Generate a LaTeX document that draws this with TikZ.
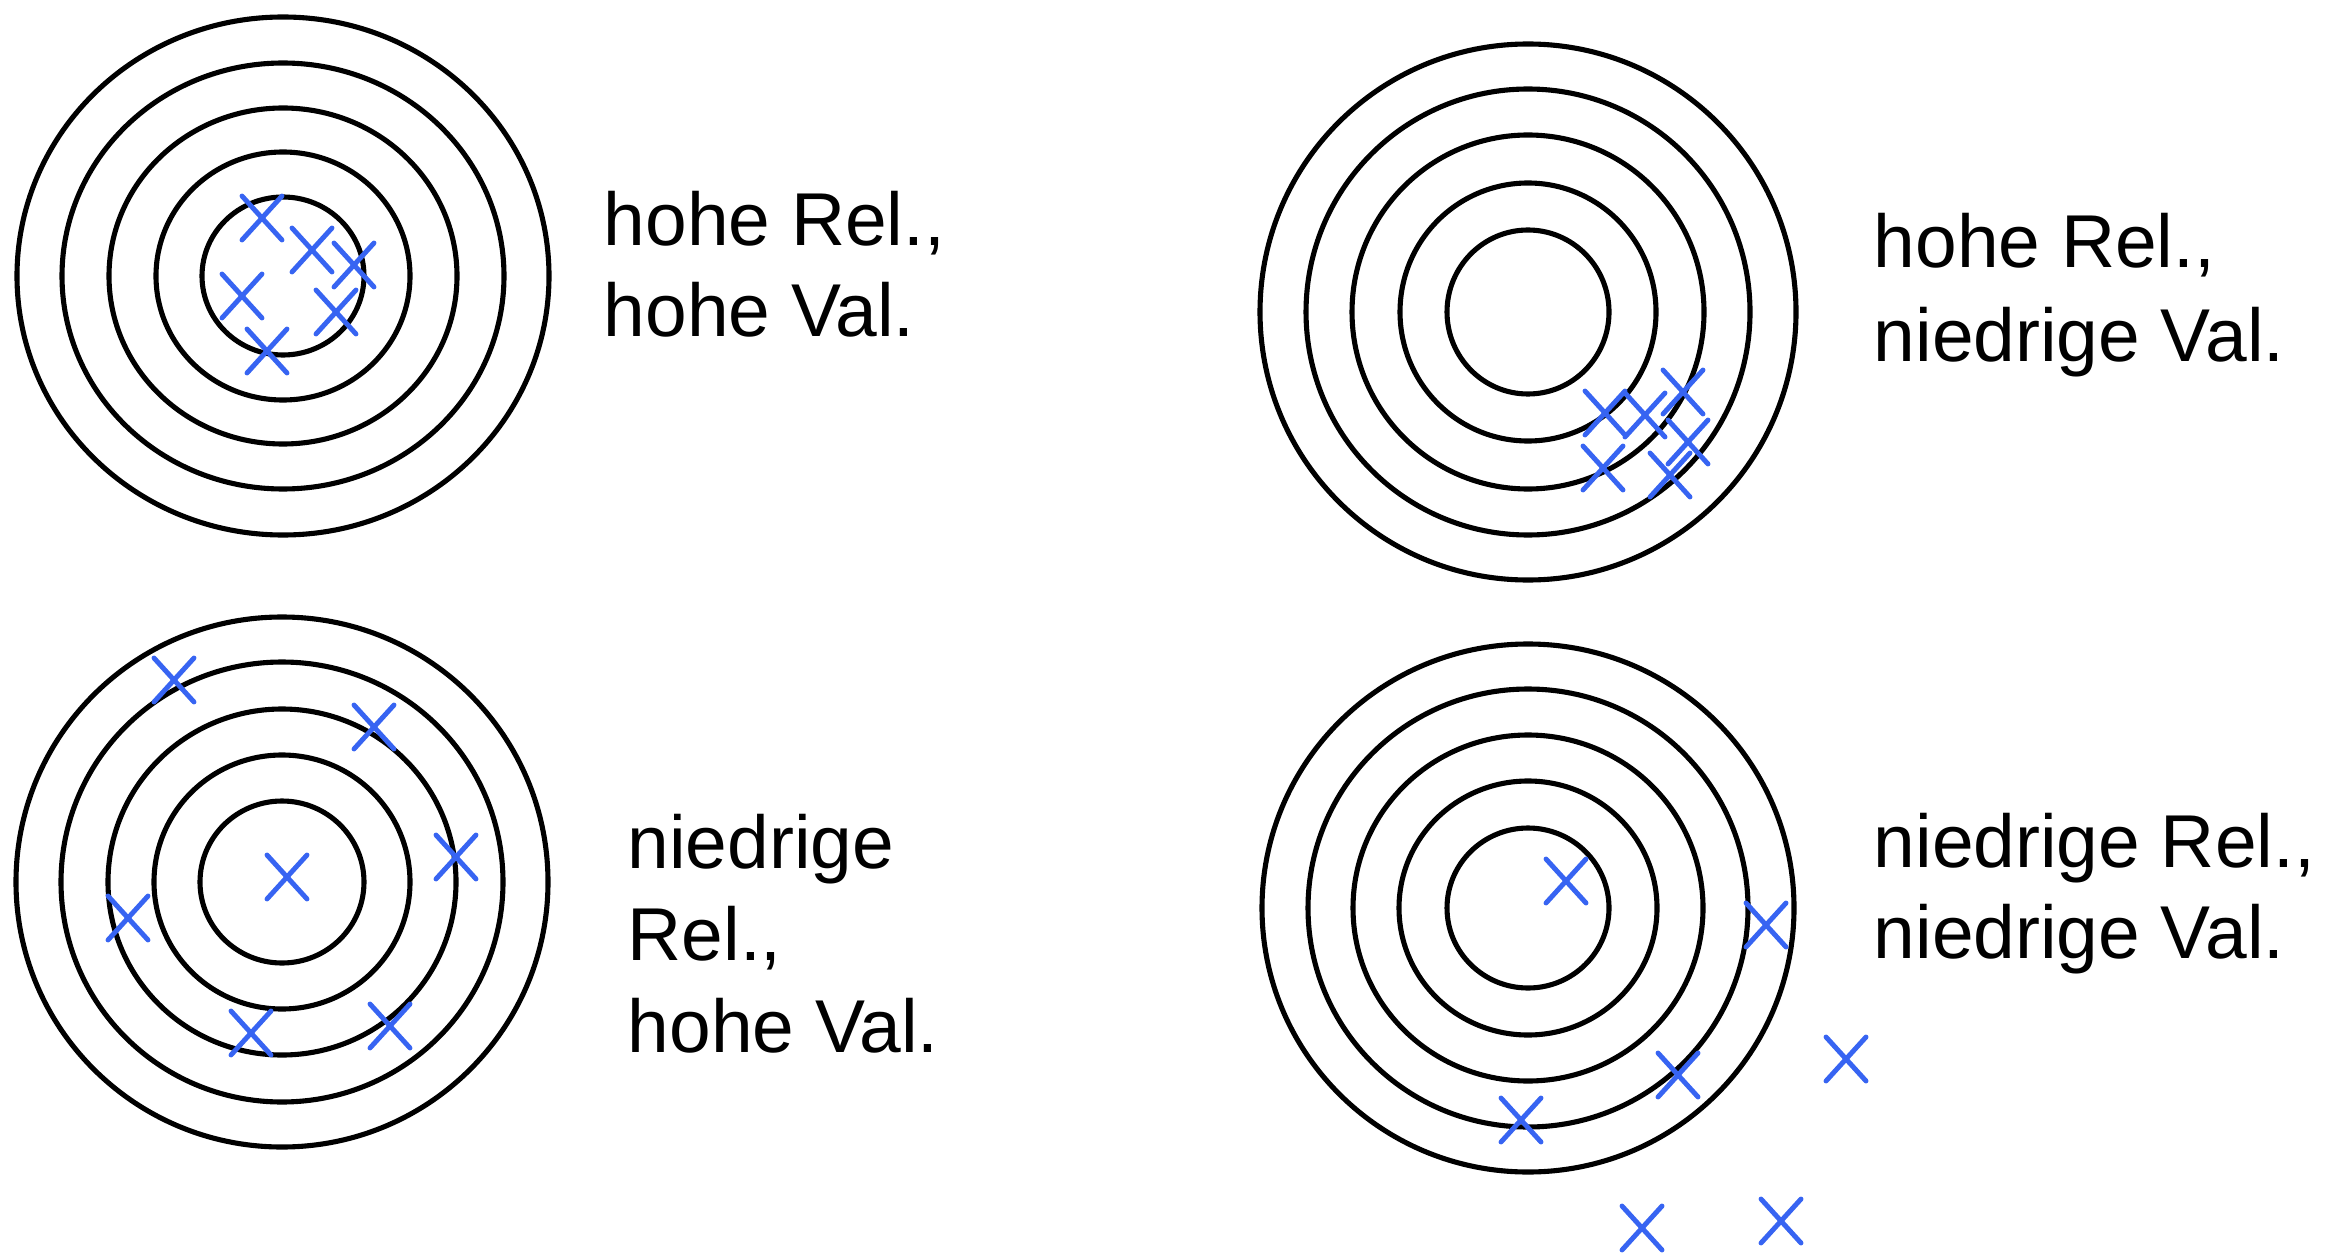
\documentclass[tikz,border=0pt]{standalone}
\usepackage{fontspec}
\setmainfont{Liberation Sans}
\definecolor{xblue}{RGB}{55,100,242}
\begin{document}
\begin{tikzpicture}[x=0.01cm,y=-0.01cm,
  ring/.style={draw=black,line width=1.45pt},
  lbl/.style={anchor=base west,inner sep=0pt,font=\fontsize{21.3pt}{26pt}\selectfont},
  pics/xmark/.style={code={\draw[xblue,line width=1.4pt,line cap=round] (-20,-22) -- (20,22) (-20,22) -- (20,-22);}}]
\useasboundingbox (0,0) rectangle (2337,1255);
% top-left target
\foreach \rx/\ry in {266/259,221/213,174/168,127/124,81/79}
  \draw[ring] (283,276) ellipse [x radius=\rx, y radius=\ry];
\foreach \p in {(262,218),(312,250),(354,265),(242,296),(336,312),(267,351)}
  \pic at \p {xmark};
% top-right target
\foreach \rx/\ry in {268/268,222/223,176/177,128/129,81/82}
  \draw[ring] (1528,312) ellipse [x radius=\rx, y radius=\ry];
\foreach \p in {(1605,413),(1645,415),(1683,392),(1688,442),(1603,468),(1670,475)}
  \pic at \p {xmark};
% bottom-left target
\foreach \rx/\ry in {266/265,221/220,174/173,128/127,82/81}
  \draw[ring] (282,882) ellipse [x radius=\rx, y radius=\ry];
\foreach \p in {(174,680),(374,727),(456,857),(287,877),(128,918),(251,1033),(390,1026)}
  \pic at \p {xmark};
% bottom-right target
\foreach \rx/\ry in {266/264,220/219,175/173,129/127,81/80}
  \draw[ring] (1528,908) ellipse [x radius=\rx, y radius=\ry];
\foreach \p in {(1566,881),(1766,925),(1846,1059),(1678,1075),(1521,1120),(1642,1228),(1781,1221)}
  \pic at \p {xmark};
% labels
\node[lbl] (tla) at (603,246) {hohe Rel.,};
\node[lbl] (tlb) at (603,337) {hohe Val.};
\node[lbl] (tra) at (1873,268) {hohe Rel.,};
\node[lbl] (trb) at (1873,362) {niedrige Val.};
\node[lbl] (bla) at (627,868) {niedrige};
\node[lbl] (blb) at (627,960) {Rel.,};
\node[lbl] (blc) at (627,1052) {hohe Val.};
\node[lbl] (bra) at (1873,867) {niedrige Rel.,};
\node[lbl] (brb) at (1873,958) {niedrige Val.};
\end{tikzpicture}
\end{document}
